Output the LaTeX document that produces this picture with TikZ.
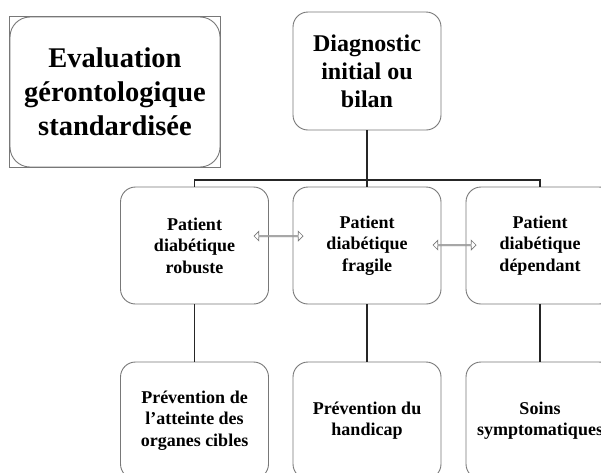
\documentclass[tikz,border=0pt]{standalone}
\usepackage{fontspec}
\setmainfont{Liberation Serif}
\usetikzlibrary{shapes.arrows}
\definecolor{boxgray}{RGB}{120,120,120}
\tikzset{
  box/.style={draw=boxgray, line width=0.9pt, rounded corners=15pt, fill=white,
    minimum width=148pt, minimum height=117pt, inner sep=0pt, align=center,
    font=\bfseries\fontsize{18}{21.5}\selectfont},
  conn/.style={draw=black!85, line width=1.5pt},
  dblarrow/.style={double arrow, draw=boxgray, fill=white, line width=0.7pt,
    minimum height=#1, minimum width=9.5pt, double arrow head extend=2.2pt,
    double arrow head indent=0pt, inner sep=0pt}
}
\begin{document}
\begin{tikzpicture}[x=1pt,y=-1pt]
\useasboundingbox (0,0) rectangle (601,472);
\clip (0,0) rectangle (601,472);
\fill[white] (0,0) rectangle (601,472);

% Evaluation box
\node[box, minimum width=210pt, minimum height=150pt, rounded corners=20pt,
  font=\bfseries\fontsize{28.5}{34}\selectfont] (ev) at (115,92)
  {Evaluation\\g\'erontologique\\standardis\'ee};
\draw[boxgray, line width=0.9pt] (ev.north west) rectangle (ev.south east);

% Diagnostic
\node[box, minimum height=118pt, font=\bfseries\fontsize{24}{28}\selectfont] (diag) at (367,71)
  {Diagnostic\\initial ou\\bilan};

% Row 2
\node[box] (r1) at (194.5,245.5) {Patient\\diab\'etique\\robuste};
\node[box] (r2) at (367,245.5) {Patient\\diab\'etique\\fragile};
\node[box] (r3) at (540,245.5) {Patient\\diab\'etique\\d\'ependant};

% Row 3
\node[box] (b1) at (194.5,420.5) {Pr\'evention de\\l'atteinte des\\organes cibles};
\node[box] (b2) at (367,420.5) {Pr\'evention du\\handicap};
\node[box] (b3) at (540,420.5) {Soins\\symptomatiques};

% Connectors
\coordinate (bus) at (367,180);
\draw[conn] (diag.south) -- (r2.north);
\draw[conn] (r1.north) -- (r1.north |- bus) -- (r3.north |- bus) -- (r3.north);
\draw[conn] (r1.south) -- (b1.north);
\draw[conn] (r2.south) -- (b2.north);
\draw[conn] (r3.south) -- (b3.north);

% Double arrows
\node[dblarrow=49pt] (a1) at (278.5,236) {};
\node[dblarrow=43pt] (a2) at (454.5,245) {};
\end{tikzpicture}
\end{document}
